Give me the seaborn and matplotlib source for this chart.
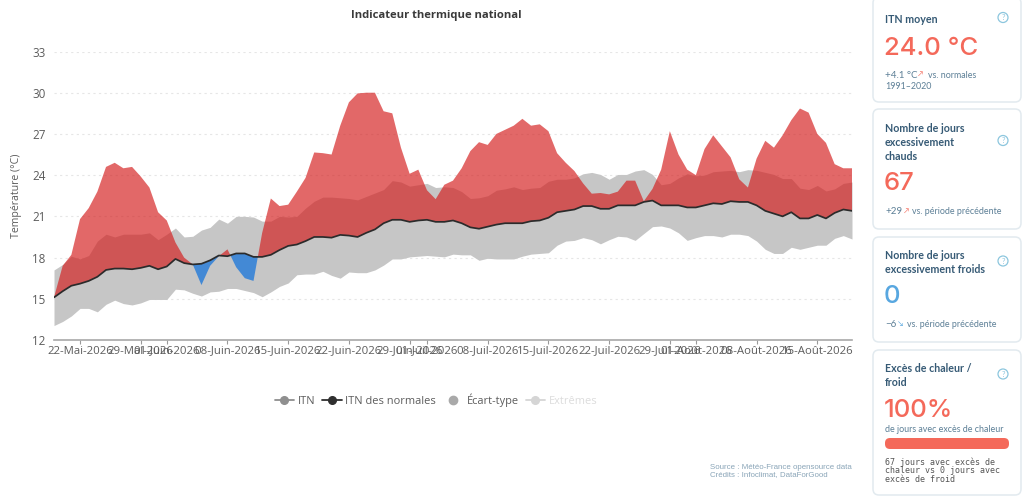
import numpy as np
import pandas as pd
import matplotlib
matplotlib.use("Agg")
import matplotlib.pyplot as plt
from matplotlib.lines import Line2D
from matplotlib.patches import FancyBboxPatch, Circle
import seaborn as sns

itn = [15.1,17.4,18.2,20.8,21.6,22.8,24.6,24.9,24.5,24.6,23.9,23.1,21.3,20.7,19.1,18.0,17.5,16.0,17.4,18.1,18.6,17.3,16.5,16.3,19.8,22.3,21.75,21.85,22.8,23.8,25.65,25.6,25.5,27.6,29.3,29.95,30.0,30.0,28.65,28.5,26.0,24.1,24.4,22.9,22.25,23.3,23.6,24.5,25.75,26.4,26.2,27.0,27.3,27.6,28.1,27.6,27.7,27.2,25.6,24.9,24.3,23.4,22.65,22.7,22.6,22.8,23.6,23.6,22.1,23.0,24.4,27.2,25.5,24.4,24.0,25.9,26.9,26.1,25.3,23.7,23.1,25.2,26.5,26.0,26.9,28.0,28.85,28.55,27.0,26.35,24.8,24.5,24.5]
normales = [15.1,15.55,15.95,16.1,16.3,16.6,17.1,17.2,17.2,17.15,17.25,17.4,17.15,17.35,17.9,17.6,17.5,17.55,17.8,18.15,18.1,18.3,18.3,18.05,18.05,18.2,18.55,18.85,18.95,19.2,19.5,19.5,19.45,19.65,19.6,19.5,19.8,20.05,20.5,20.75,20.75,20.6,20.7,20.75,20.6,20.6,20.7,20.5,20.2,20.1,20.25,20.4,20.5,20.5,20.5,20.65,20.7,20.9,21.3,21.4,21.5,21.75,21.75,21.55,21.55,21.8,21.8,21.8,22.05,22.15,21.8,21.8,21.8,21.65,21.65,21.8,21.95,21.9,22.1,22.05,22.05,21.8,21.4,21.2,21.0,21.3,20.85,20.85,21.1,20.85,21.25,21.5,21.4]
ecart_haut = [17.1,17.5,18.1,17.9,18.15,19.2,19.7,19.5,19.7,19.7,19.7,19.8,19.3,19.7,20.15,19.5,19.55,20.0,20.2,20.8,20.5,21.0,21.0,20.95,20.65,20.65,21.0,20.95,21.0,21.6,22.1,22.4,22.4,22.35,22.3,22.2,22.45,22.7,22.95,23.6,23.5,23.2,23.3,23.4,23.1,23.15,23.1,22.8,22.3,22.35,22.5,22.9,23.0,23.15,22.95,23.05,23.1,23.55,23.7,23.7,23.8,24.1,24.2,24.05,23.7,24.05,24.05,24.3,24.4,24.05,23.3,23.4,23.8,24.1,23.95,24.0,24.25,24.3,24.35,24.25,24.4,24.35,24.2,24.05,23.75,23.75,23.05,22.95,23.25,22.85,23.0,23.4,23.5]
ecart_bas = [13.05,13.35,13.75,14.3,14.3,14.05,14.6,14.9,14.65,14.55,14.7,14.95,14.95,14.95,15.7,15.65,15.4,15.2,15.5,15.55,15.75,15.75,15.6,15.45,15.15,15.5,15.9,16.15,16.75,16.8,16.8,17.0,16.7,16.5,16.95,16.9,16.9,17.1,17.45,17.9,17.9,18.05,18.1,18.15,18.1,18.05,18.25,18.2,18.2,17.8,17.95,17.9,17.9,17.9,18.1,18.25,18.3,18.35,18.9,19.2,19.25,19.45,19.3,19.0,19.3,19.55,19.5,19.25,19.75,20.25,20.3,20.15,19.8,19.25,19.45,19.6,19.6,19.5,19.7,19.7,19.6,19.2,18.6,18.3,18.3,18.75,18.6,18.75,18.9,18.9,19.4,19.6,19.35]

tick_dates = ["2026-05-22","2026-05-29","2026-06-01","2026-06-08","2026-06-15","2026-06-22","2026-06-29","2026-07-01","2026-07-08","2026-07-15","2026-07-22","2026-07-29","2026-08-01","2026-08-08","2026-08-15"]
tick_labels = ["22-Mai-2026","29-Mai-2026","01-Juin-2026","08-Juin-2026","15-Juin-2026","22-Juin-2026","29-Juin-2026","01-Juil-2026","08-Juil-2026","15-Juil-2026","22-Juil-2026","29-Juil-2026","01-Août-2026","08-Août-2026","15-Août-2026"]
y_ticks = [12,15,18,21,24,27,30,33]

sns.set_theme(style="white")
plt.rcParams["font.family"] = ["Open Sans", "DejaVu Sans"]

W, H = 1024, 498
fig = plt.figure(figsize=(W/100, H/100), dpi=100)
ax = fig.add_axes([54/W, 1-340/H, (852-54)/W, (340-51.5)/H])

df = pd.DataFrame({"date": pd.date_range("2026-05-19", periods=len(itn), freq="D"),
                   "itn": itn, "normales": normales, "haut": ecart_haut, "bas": ecart_bas})
GREY_TXT = "#5c5c5c"

ax.fill_between(df["date"], df["bas"], df["haut"], color="#c6c6c6", lw=0, zorder=2)
ax.fill_between(df["date"], df["normales"], df["itn"], where=df["itn"] >= df["normales"],
                interpolate=True, color="#d41e1e", alpha=0.67, lw=0, zorder=3)
ax.fill_between(df["date"], df["normales"], df["itn"], where=df["itn"] <= df["normales"],
                interpolate=True, color="#3f87d6", alpha=0.97, lw=0, zorder=3)
sns.lineplot(data=df, x="date", y="normales", color="#2b2b2b", lw=1.25, ax=ax, zorder=4, legend=False)

ax.set_xlim(df["date"].iloc[0], df["date"].iloc[-1])
ax.set_ylim(12, 33)
ax.set_yticks(y_ticks)
ax.set_xticks(pd.to_datetime(tick_dates))
ax.set_xticklabels(tick_labels)
ax.tick_params(axis="x", colors="#9a9a9a", labelcolor=GREY_TXT, labelsize=8.2, length=3, width=0.8, pad=1, bottom=True)
ax.tick_params(axis="y", length=0, labelcolor=GREY_TXT, labelsize=8.4, pad=6)
ax.grid(axis="y", color="#e6e6e6", lw=0.8, ls=(0, (2, 3)), zorder=1)
ax.set_axisbelow(True)
for s in ["top", "right", "left"]:
    ax.spines[s].set_visible(False)
ax.spines["bottom"].set_color("#a8a8a8")
ax.spines["bottom"].set_linewidth(1.2)
ax.set_xlabel("")
ax.set_ylabel("Température (°C)", fontsize=7.6, color=GREY_TXT, labelpad=7)

handles = [
    Line2D([], [], color="#8f8f8f", lw=1.3, marker="o", ms=5.5, label="ITN"),
    Line2D([], [], color="#2f2f2f", lw=1.3, marker="o", ms=5.5, label="ITN des normales"),
    Line2D([], [], color="none", marker="o", mfc="#a9a9a9", mec="#a9a9a9", ms=6, label="Écart-type"),
    Line2D([], [], color="#d5d5d5", lw=1.3, marker="o", ms=5.5, label="Extrêmes"),
]
leg = fig.legend(handles=handles, loc="center", bbox_to_anchor=(436/W, 1-400/H), ncol=4, frameon=False,
                 fontsize=7.9, handlelength=1.75, handletextpad=0.35, columnspacing=0.65,
                 labelcolor=[GREY_TXT, GREY_TXT, GREY_TXT, "#dcdcdc"])

# Overlay in pixel coordinates for the title, source and side cards
ov = fig.add_axes([0, 0, 1, 1], facecolor="none")
ov.set_xlim(0, W); ov.set_ylim(H, 0); ov.axis("off")

ov.text(436, 15, "Indicateur thermique national", ha="center", va="center", fontsize=8.1, fontweight="bold", color="#3a3a3a")
ov.text(710, 467, "Source : Météo-France opensource data", fontsize=5.7, color="#8aa5b8", va="center", family="Liberation Sans")
ov.text(710, 474.5, "Crédits : Infoclimat, DataForGood", fontsize=5.7, color="#8aa5b8", va="center", family="Liberation Sans")

CARD = "Lato"
TITLE = "#365a75"
SUB = "#5c7f96"
RED = "#f4695a"
BLUE = "#58a7e0"
BIG = dict(fontsize=18.5, family="Inter", fontweight="medium", va="center")

def card(y0, y1):
    ov.add_patch(FancyBboxPatch((879, y0+6), 136, y1-y0-12, boxstyle="round,pad=6,rounding_size=6",
                                fc="white", ec="#e2eaef", lw=1.1))

def icon(y):
    ov.add_patch(Circle((1003, y), 5, fc="white", ec="#8cc6de", lw=0.9))
    ov.text(1003, y, "?", ha="center", va="center", fontsize=5.5, color="#8cc6de", family="Lato")

def title(lines, y, dy=14):
    for i, t in enumerate(lines):
        ov.text(885, y+i*dy, t, fontsize=7.7, fontweight="bold", color=TITLE, family=CARD, va="center")

def sub(x, y, t, c=SUB, fs=6.6):
    ov.text(x, y, t, fontsize=fs, color=c, family=[CARD, "DejaVu Sans"], va="center")

card(-3, 102)
title(["ITN moyen"], 19.5); icon(17.5)
ov.text(884, 48, "24.0 °C", color=RED, **BIG)
sub(885, 75, "+4.1 °C", fs=7)
sub(918, 73.5, "↗", RED, 5)
sub(928, 75, "vs. normales", fs=6.4)
sub(885, 86, "1991–2020", fs=6.4)

card(109, 229)
title(["Nombre de jours", "excessivement", "chauds"], 128.5); icon(140.5)
ov.text(884, 183, "67", color=RED, **BIG)
sub(885, 211, "+29", fs=7)
sub(904, 210, "↗", RED, 5)
sub(912, 211, "vs. période précédente", fs=6.4)

card(237, 342)
title(["Nombre de jours", "excessivement froids"], 255.5); icon(261)
ov.text(884, 296, "0", color=BLUE, **BIG)
sub(885, 324, "−6", fs=7)
sub(898, 323, "↘", BLUE, 5)
sub(907, 324, "vs. période précédente", fs=6.4)

card(350, 495)
title(["Excès de chaleur /", "froid"], 368.5); icon(374)
ov.text(884, 410, "100%", color=RED, **BIG)
sub(885, 429, "de jours avec excès de chaleur", fs=6.4)
ov.add_patch(FancyBboxPatch((890, 443), 114, 1, boxstyle="round,pad=5,rounding_size=5", fc=RED, ec="none"))
for i, t in enumerate(["67 jours avec excès de", "chaleur vs 0 jours avec", "excès de froid"]):
    ov.text(885, 462+i*8.6, t, fontsize=6.0, family="DejaVu Sans Mono", color="#555555", va="center")

fig.savefig("out.png", dpi=100)
